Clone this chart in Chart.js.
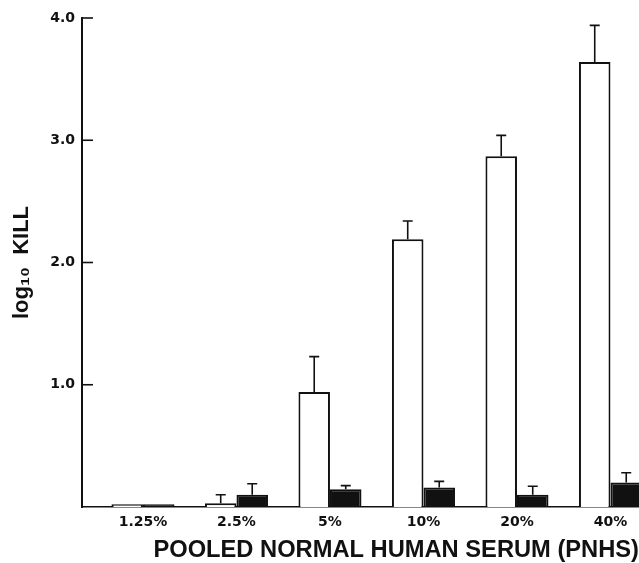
<!DOCTYPE html>
<html lang="en">
<head>
    <meta charset="UTF-8">
    <title>log10 Kill vs PNHS</title>
    <script src="https://cdn.jsdelivr.net/npm/chart.js"></script>
    <style>
        html, body { margin: 0; padding: 0; background: #fff; }
        #wrap { width: 639px; height: 563px; }
    </style>
</head>
<body>
<div id="wrap"><canvas id="chartCanvas"></canvas></div>

<script>
    // values
    const categories = ["1.25%", "2.5%", "5%", "10%", "20%", "40%"];
    const openMeans = [0.022, 0.03, 0.94, 2.19, 2.87, 3.64];
    const openErr = [0, 0.07, 0.29, 0.15, 0.17, 0.30];
    const solidMeans = [0.022, 0.10, 0.145, 0.16, 0.10, 0.20];
    const solidErr = [0, 0.09, 0.03, 0.05, 0.07, 0.08];
    const yTicks = [1, 2, 3, 4];

    const ink = "#111";

    // error bars drawn upward from the top of each bar
    const errorBars = {
        id: "errorBars",
        afterDatasetsDraw(chart) {
            const ctx = chart.ctx;
            const yScale = chart.scales.y;
            const errs = [openErr, solidErr];
            ctx.save();
            ctx.strokeStyle = ink;
            ctx.lineWidth = 1.6;
            chart.data.datasets.forEach((ds, d) => {
                const meta = chart.getDatasetMeta(d);
                meta.data.forEach((bar, i) => {
                    const e = errs[d][i];
                    if (!e) return;
                    const top = yScale.getPixelForValue(ds.data[i].y + e);
                    ctx.beginPath();
                    ctx.moveTo(bar.x, bar.y);
                    ctx.lineTo(bar.x, top);
                    ctx.moveTo(bar.x - 5, top);
                    ctx.lineTo(bar.x + 5, top);
                    ctx.stroke();
                });
            });
            ctx.restore();
        }
    };

    // short tick marks pointing into the plot
    const innerTicks = {
        id: "innerTicks",
        afterDraw(chart) {
            const ctx = chart.ctx;
            const yScale = chart.scales.y;
            const left = chart.chartArea.left;
            ctx.save();
            ctx.strokeStyle = ink;
            ctx.lineWidth = 1.6;
            yTicks.forEach(v => {
                const y = yScale.getPixelForValue(v);
                ctx.beginPath();
                ctx.moveTo(left, y);
                ctx.lineTo(left + 11, y);
                ctx.stroke();
            });
            ctx.restore();
        }
    };

    const ctx = document.getElementById("chartCanvas").getContext("2d");
    new Chart(ctx, {
        type: "bar",
        data: {
            datasets: [{
                label: "open",
                data: categories.map((c, i) => ({ x: i, y: openMeans[i] })),
                backgroundColor: "#fff",
                borderColor: ink,
                borderWidth: 2
            }, {
                label: "solid",
                data: categories.map((c, i) => ({ x: i, y: solidMeans[i] })),
                backgroundColor: ink,
                borderColor: ink,
                borderWidth: 2
            }]
        },
        plugins: [errorBars, innerTicks],
        options: {
            responsive: true,
            maintainAspectRatio: false,
            animation: false,
            categoryPercentage: 0.674,
            barPercentage: 1.0,
            layout: { padding: { top: 18, left: 0, right: 0, bottom: 0 } },
            plugins: {
                legend: { display: false },
                tooltip: { enabled: false }
            },
            scales: {
                x: {
                    type: "linear",
                    offset: false,
                    min: -0.652,
                    max: 5.305,
                    grid: { display: false, drawTicks: false, offset: false },
                    border: { display: true, color: ink, width: 1.6 },
                    afterBuildTicks: scale => {
                        scale.ticks = categories.map((c, i) => ({ value: i }));
                    },
                    afterFit: scale => { scale.height = 56; },
                    ticks: {
                        padding: 7,
                        color: ink,
                        maxRotation: 0,
                        autoSkip: false,
                        font: { family: "DejaVu Sans", weight: "bold", size: 14 },
                        callback: v => categories[v]
                    },
                    title: {
                        display: true,
                        align: "end",
                        text: "POOLED NORMAL HUMAN SERUM (PNHS)",
                        color: ink,
                        padding: { top: 0, bottom: -2 },
                        font: { family: "Liberation Sans", weight: "bold", size: 23.7 }
                    }
                },
                y: {
                    min: 0,
                    max: 4,
                    grid: { display: false, drawTicks: false },
                    border: { display: true, color: ink, width: 2 },
                    afterBuildTicks: scale => {
                        scale.ticks = [0].concat(yTicks).map(v => ({ value: v }));
                    },
                    afterFit: scale => { scale.width = 82; },
                    ticks: {
                        padding: 7,
                        color: ink,
                        font: { family: "DejaVu Sans", weight: "bold", size: 14 },
                        callback: v => (v === 0 ? "" : v.toFixed(1))
                    },
                    title: {
                        display: true,
                        text: "log\u2081\u2080  KILL",
                        color: ink,
                        padding: { top: 9, bottom: 0 },
                        font: { family: "Liberation Sans", weight: "bold", size: 22 }
                    }
                }
            }
        }
    });
</script>
</body>
</html>
